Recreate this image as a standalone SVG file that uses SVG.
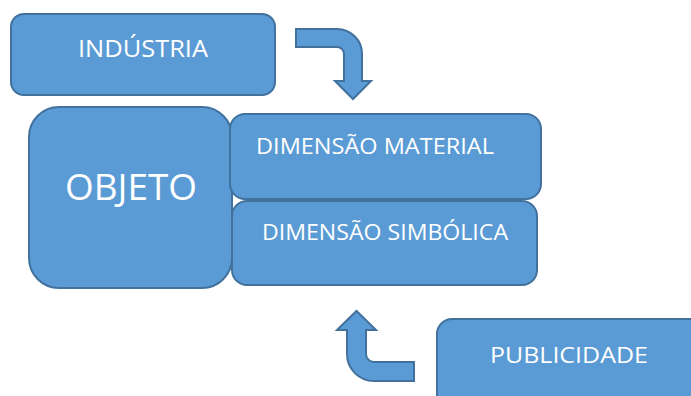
<svg xmlns="http://www.w3.org/2000/svg" width="691" height="396" viewBox="0 0 691 396">
<style>
.box{fill:#5B9BD5;stroke:#41719C;stroke-width:2}
.arr{fill:#5B9BD5;stroke:#41719C;stroke-width:2;stroke-linejoin:miter}
.t{fill:#FFFFFF;font-family:"Open Sans","Liberation Sans",sans-serif}
</style>
<rect width="691" height="396" fill="#FFFFFF"/>
<g id="industria">
<rect class="box" x="11" y="14" width="264" height="81" rx="13"/>
<text class="t" x="78" y="57" font-size="23" textLength="130" lengthAdjust="spacingAndGlyphs">INDÚSTRIA</text>
</g>
<g id="objeto">
<rect class="box" x="29" y="107" width="203" height="181" rx="30"/>
<text class="t" x="65" y="200" font-size="36" textLength="132" lengthAdjust="spacingAndGlyphs">OBJETO</text>
</g>
<g id="dimensao-material">
<rect class="box" x="230" y="114" width="311" height="85" rx="15"/>
<text class="t" x="256" y="154" font-size="21" textLength="238" lengthAdjust="spacingAndGlyphs">DIMENSÃO MATERIAL</text>
</g>
<g id="dimensao-simbolica">
<rect class="box" x="232" y="201" width="305" height="84" rx="15"/>
<text class="t" x="262" y="240" font-size="21" textLength="246" lengthAdjust="spacingAndGlyphs">DIMENSÃO SIMBÓLICA</text>
</g>
<g id="publicidade">
<rect class="box" x="437" y="319" width="270" height="95" rx="15"/>
<text class="t" x="490" y="363" font-size="22" textLength="158" lengthAdjust="spacingAndGlyphs">PUBLICIDADE</text>
</g>
<g id="connectors">
<path class="arr" d="M296,29 L337,29 A25,25 0 0 1 362,54 L362,81 L371,81 L353,99 L335,81 L344,81 L344,54 A7,7 0 0 0 337,47 L296,47 Z"/>
<path class="arr" d="M414,362 L374,362 A8,8 0 0 1 366,354 L366,330 L376,330 L356.5,311 L337,330 L347,330 L347,354 A27,27 0 0 0 374,381 L414,381 Z"/>
</g>
</svg>
